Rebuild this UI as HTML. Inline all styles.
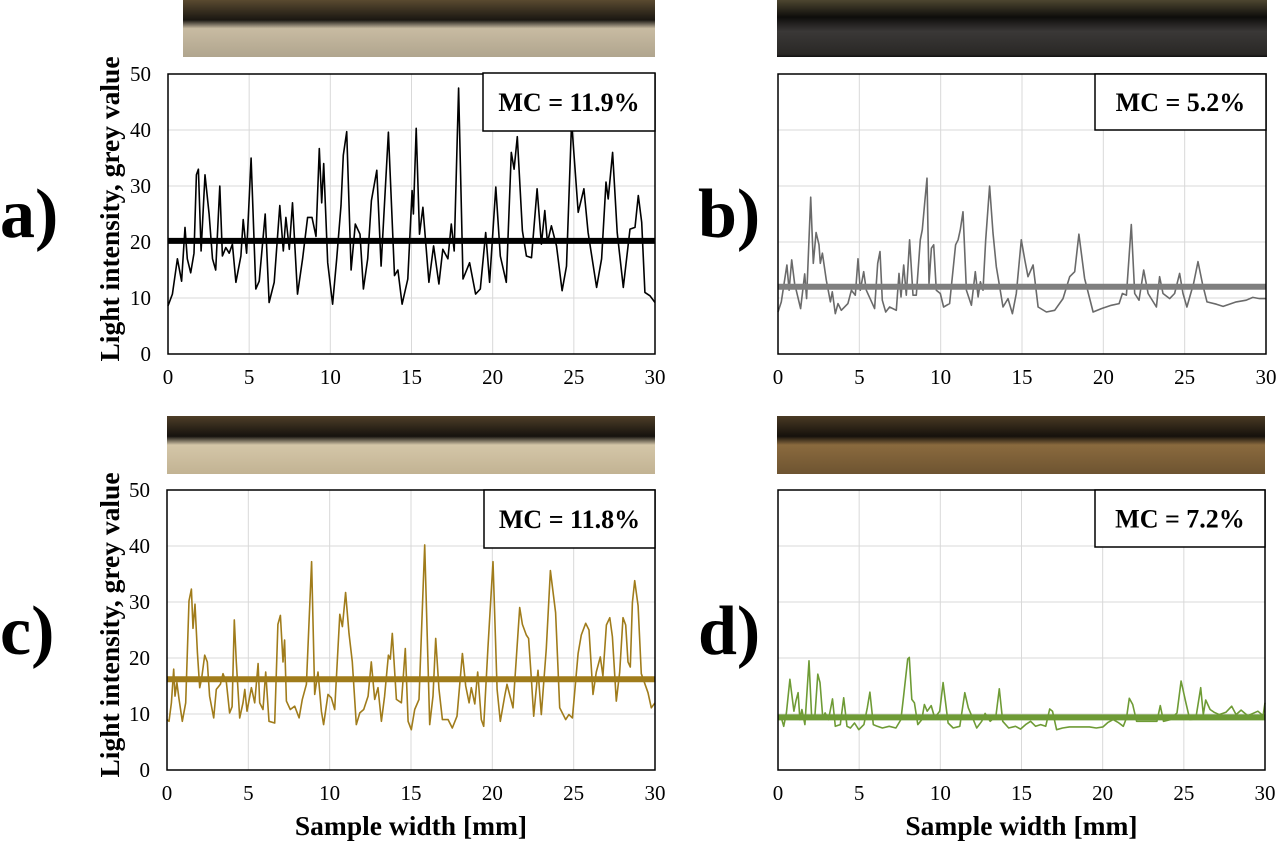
<!DOCTYPE html>
<html><head><meta charset="utf-8"><style>
body{margin:0;background:#fff;width:1280px;height:843px;overflow:hidden;font-family:"Liberation Serif",serif}
svg{display:block}
</style></head><body>
<svg id="fig" width="1280" height="843" viewBox="0 0 1280 843">
<defs>
<linearGradient id="woodA" x1="0" x2="0" y1="0" y2="1"><stop offset="0" stop-color="#5a4a30"/><stop offset="0.35" stop-color="#1a1712"/><stop offset="0.5" stop-color="#c8bba2"/><stop offset="1" stop-color="#b0a58e"/></linearGradient>
<linearGradient id="woodB" x1="0" x2="0" y1="0" y2="1"><stop offset="0" stop-color="#4d4630"/><stop offset="0.3" stop-color="#0e0d0b"/><stop offset="0.55" stop-color="#3a3837"/><stop offset="0.95" stop-color="#2a2826"/><stop offset="1" stop-color="#101010"/></linearGradient>
<linearGradient id="woodC" x1="0" x2="0" y1="0" y2="1"><stop offset="0" stop-color="#4e3e28"/><stop offset="0.35" stop-color="#15120e"/><stop offset="0.5" stop-color="#d4c6a8"/><stop offset="1" stop-color="#c2b393"/></linearGradient>
<linearGradient id="woodD" x1="0" x2="0" y1="0" y2="1"><stop offset="0" stop-color="#4a3a24"/><stop offset="0.35" stop-color="#15110c"/><stop offset="0.5" stop-color="#8a6a3e"/><stop offset="1" stop-color="#6e5431"/></linearGradient>
</defs>
</svg>
<script>
// ---- data ----
const xA=[0,0.27,0.58,0.84,1.05,1.19,1.4,1.6,1.75,1.87,2.04,2.28,2.53,2.74,2.94,3.19,3.35,3.56,3.77,3.97,4.18,4.49,4.63,4.84,5.12,5.41,5.62,5.99,6.23,6.54,6.89,7.1,7.26,7.47,7.67,7.98,8.29,8.6,8.87,9.12,9.32,9.47,9.59,9.84,10.14,10.39,10.66,10.8,11.01,11.28,11.54,11.83,12.04,12.3,12.53,12.86,13.13,13.58,13.95,14.16,14.42,14.77,15.04,15.12,15.29,15.49,15.7,16.07,16.36,16.69,16.93,17.24,17.45,17.63,17.9,18.17,18.58,18.95,19.24,19.57,19.81,20.19,20.47,20.84,21.15,21.32,21.52,21.83,22.08,22.39,22.74,23.0,23.21,23.37,23.62,23.93,24.28,24.55,24.86,25.27,25.62,25.88,26.4,26.71,26.98,27.12,27.39,27.67,28.05,28.46,28.77,28.97,29.18,29.38,29.69,30];
const yA=[8.6,10.7,17,13,22.6,17,14.5,18,32,33,18.4,32,25,17,15,30,17.5,19,18,19.6,12.8,17.5,24,18,35,11.6,13,25,9.2,12.8,26.5,18.4,24.4,18.7,27,10.7,17,24.4,24.4,21,36.7,27,34,16.3,8.9,17,26.5,35.5,39.7,15,23.2,21.4,11.6,17,27.4,32.8,15.7,39.6,14,15,8.9,13.4,29.2,25,40.3,21.4,26.2,12.8,19.3,12.5,18.7,17,23.2,18.4,47.5,13.4,16.3,10.7,11.6,21.7,12.8,29.8,17.5,12.8,36,33,38.8,22,17.5,17.2,29.5,19.6,25.6,19.9,22.9,19.3,11.3,15.7,41.5,25.3,29.5,21.7,11.9,17,30.7,27.7,36,21.7,11.9,22.3,22.6,28.3,23.5,11,10.4,9.2];
const meanA=20.2;
const xB=[0,0.2,0.55,0.68,0.84,1.02,1.39,1.64,1.76,2.01,2.17,2.34,2.52,2.6,2.73,2.97,3.22,3.34,3.52,3.69,3.89,4.3,4.51,4.75,4.92,5.06,5.27,5.43,5.94,6.13,6.27,6.41,6.62,6.86,7.27,7.44,7.56,7.73,7.89,8.09,8.3,8.5,8.75,8.87,9.02,9.16,9.28,9.43,9.57,9.73,9.98,10.18,10.55,10.92,11.07,11.21,11.37,11.58,11.89,12.13,12.3,12.44,12.6,12.77,13.01,13.22,13.42,13.59,13.83,14.14,14.41,14.65,14.96,15.17,15.37,15.68,15.99,16.5,17.01,17.52,17.93,18.24,18.5,18.85,19.37,19.88,20.49,20.97,21.17,21.42,21.72,21.93,22.19,22.48,22.75,23.26,23.46,23.67,24.08,24.38,24.69,24.9,25.14,25.55,25.82,26.09,26.37,26.95,27.36,28.17,28.78,29.19,29.6,30];
const yB=[7.5,9.3,15.9,11.4,16.8,12.6,8.1,14.3,9.9,28,16.2,21.7,19.5,16.2,18,13.2,9.3,11.1,7.2,9,7.8,9,11.4,10.5,17,11.4,14.7,11.4,8.1,16.2,18.3,9.6,7.5,8.4,7.8,14.4,10.2,15.9,10.5,20.4,10.5,10.5,20.4,22.2,27,31.4,12.6,18.9,19.5,11.4,10.8,8.4,9,19.5,20.4,22.2,25.4,11.4,8.7,14.7,10.2,12.9,11.4,20.4,30,21.6,15.6,12.6,8.4,9.9,7.2,10.8,20.4,16.8,13.8,15.9,8.4,7.5,7.8,9.9,13.8,14.7,21.4,13.5,7.5,8.1,8.7,9,10.8,10.5,23.1,10.8,9.6,15,10.8,8.4,13.8,10.8,9.9,10.8,14.4,10.8,8.4,12.6,16.5,12.6,9.3,8.9,8.5,9.3,9.6,10.1,9.9,9.9];
const meanB=12.0;
const xC=[0,0.12,0.27,0.41,0.49,0.61,0.74,0.94,1.15,1.35,1.5,1.6,1.72,1.87,2.01,2.13,2.32,2.48,2.62,2.87,3.03,3.28,3.44,3.65,3.85,4.0,4.14,4.26,4.47,4.67,4.78,4.92,5.19,5.39,5.6,5.7,5.9,6.07,6.27,6.62,6.82,6.97,7.13,7.23,7.34,7.58,7.85,8.12,8.32,8.57,8.89,9.08,9.28,9.49,9.63,9.9,10.1,10.31,10.62,10.78,10.98,11.19,11.39,11.64,11.85,12.09,12.36,12.56,12.77,12.97,13.18,13.38,13.61,13.73,13.85,14.1,14.41,14.65,14.82,15.02,15.23,15.49,15.84,16.15,16.35,16.52,16.72,16.93,17.28,17.54,17.83,18.16,18.36,18.57,18.71,18.92,19.1,19.32,19.47,19.73,20.04,20.29,20.49,20.76,20.9,21.27,21.68,21.85,22.09,22.23,22.4,22.54,22.81,23.01,23.32,23.57,23.89,24.14,24.51,24.71,24.92,25.27,25.47,25.74,25.94,26.19,26.39,26.64,26.8,27.01,27.22,27.38,27.62,27.83,28.03,28.2,28.34,28.48,28.61,28.75,28.96,29.16,29.57,29.77,30];
const yC=[9,8.7,12,18,13.2,15.6,12.7,8.7,12,30.2,32.3,25.3,29.6,21,14.7,16.3,20.5,19.3,13.2,9.3,14.4,15.3,17.2,15.6,10.2,11.3,26.8,19.3,9.3,12,14.4,10.5,14.7,12,19,12,10.8,17.5,8.7,8.4,26,27.6,19.3,23.2,12.3,10.8,11.4,9.3,12.6,15.3,37.2,13.5,17.5,10.5,8.1,13.5,12.9,10.8,27.8,25.6,31.7,24.4,19.3,8.1,10.2,10.8,13.2,19.3,12.6,14.7,8.7,13.2,20.5,19.8,24.4,12.6,12,21.7,8.7,7.2,10.8,12.6,40.2,8.1,13.2,23.5,14.4,9,9,7.5,9.6,20.8,15,12,14.7,11.8,17.5,9,7.8,21.7,37.2,14.4,8.7,13.2,15.3,11.1,29,26,24.1,23.5,16.2,9.6,17.8,9.9,21.7,35.6,28.1,11.1,9,9.9,9.3,20.8,24.1,26.2,25,13.5,17.5,20.2,16.8,25.9,27.2,23.8,12.3,17.5,27.2,25.9,19.3,18.4,29.9,33.8,29.3,17.2,13.8,11.1,12];
const meanC=16.2;
const xD=[0,0.21,0.35,0.52,0.73,0.98,1.1,1.24,1.35,1.47,1.66,1.91,2.07,2.28,2.45,2.59,2.76,2.9,3.11,3.36,3.53,3.84,4.05,4.25,4.46,4.71,4.98,5.29,5.5,5.66,5.87,6.12,6.43,6.85,7.26,7.57,7.74,7.99,8.09,8.24,8.4,8.61,8.86,9.02,9.19,9.44,9.65,9.96,10.17,10.48,10.79,11.2,11.51,11.72,12.03,12.24,12.55,12.76,13.07,13.42,13.63,13.84,14.21,14.63,14.94,15.25,15.56,15.87,16.18,16.49,16.74,16.91,17.16,17.53,17.95,18.36,18.78,19.19,19.61,20.02,20.33,20.64,20.95,21.27,21.47,21.64,21.85,22.09,22.51,22.93,23.34,23.55,23.75,24.17,24.58,24.83,25.1,25.37,25.73,26.04,26.2,26.35,26.62,26.87,27.18,27.59,27.95,28.22,28.53,28.94,29.56,29.88,30];
const yD=[9.6,9.3,7.8,10.2,16.2,10.5,12.3,13.8,9,10.8,8.1,19.5,9.6,9.9,17.1,15.6,9.3,10.2,9,12.7,7.8,8.1,12.9,7.8,7.5,8.4,7.2,8.1,11.1,13.9,8.1,7.8,7.5,7.8,7.5,9,13.2,19.8,20.1,12.6,12,8.1,9,11.7,10.5,11.5,9.3,10.5,15.6,8.4,7.5,7.8,13.8,11.1,9,7.5,8.7,10.1,8.7,9.6,14.5,8.7,7.5,7.8,7.3,8.1,8.7,7.8,8.1,7.8,10.9,10.5,7.2,7.5,7.7,7.7,7.7,7.7,7.5,7.7,8.5,9,8.5,7.8,9.3,12.8,11.7,8.7,8.7,8.7,8.7,11.5,8.7,9,10.2,15.9,12.3,9,9.1,14.7,9.9,12.5,10.8,10.3,9.9,10.3,11.4,9.9,10.7,9.7,10.5,9.7,12];
const meanD=9.4;
const xTicks=[0,5,10,15,20,25,30];
const yTicks=[0,10,20,30,40,50];
const mcLabels=["MC = 11.9%","MC = 5.2%","MC = 11.8%","MC = 7.2%"];
const panelLetters=["a)","b)","c)","d)"];

const NS="http://www.w3.org/2000/svg";
const svg=document.getElementById('fig');
function mk(tag,attrs,parent){const e=document.createElementNS(NS,tag);for(const k in attrs)e.setAttribute(k,attrs[k]);(parent||svg).appendChild(e);return e;}

const panels=[
 {x0:168,x1:655,y0:354,y1:74,xs:xA,ys:yA,mean:meanA,col:"#000",mcol:"#000",yl:true,xt:false,photo:[183,0,472,57,"woodA"],box:[483,73,172,58],lx:0,ly:237},
 {x0:778,x1:1266,y0:354,y1:74,xs:xB,ys:yB,mean:meanB,col:"#6a6a6a",mcol:"#7f7f7f",yl:false,xt:false,photo:[777,0,490,57,"woodB"],box:[1095,74,171,56],lx:698,ly:237},
 {x0:167,x1:655,y0:770,y1:490,xs:xC,ys:yC,mean:meanC,col:"#a07c1b",mcol:"#a07c1b",yl:true,xt:true,photo:[167,416,488,58,"woodC"],box:[484,490,171,58],lx:0,ly:654},
 {x0:778,x1:1265,y0:770,y1:490,xs:xD,ys:yD,mean:meanD,col:"#6e9b35",mcol:"#6e9b35",yl:false,xt:true,photo:[777,416,488,58,"woodD"],box:[1095,490,170,57],lx:698,ly:654}
];

panels.forEach((p,i)=>{
  const g=mk('g',{});
  
  
  const sx=v=>p.x0+(p.x1-p.x0)*v/30;
  const sy=v=>p.y0+(p.y1-p.y0)*v/50;
  const ph=mk('rect',{x:p.photo[0],y:p.photo[1],width:p.photo[2],height:p.photo[3],fill:'url(#'+p.photo[4]+')'},g);
  
  
  xTicks.forEach(t=>{const l=mk('line',{x1:sx(t),x2:sx(t),y1:p.y0,y2:p.y1,stroke:'#d9d9d9','stroke-width':1},g);
    
    });
  yTicks.forEach(t=>{const l=mk('line',{x1:p.x0,x2:p.x1,y1:sy(t),y2:sy(t),stroke:'#d9d9d9','stroke-width':1},g);
    
    });
  let d='';p.xs.forEach((x,k)=>{d+=(k?'L':'M')+sx(x).toFixed(1)+','+sy(p.ys[k]).toFixed(1);});
  const ln=mk('path',{d:d,fill:'none',stroke:p.col,'stroke-width':1.6,'stroke-linejoin':'round'},g);
  
  
  const ml=mk('line',{x1:p.x0,x2:p.x1,y1:sy(p.mean),y2:sy(p.mean),stroke:p.mcol,'stroke-width':6},g);
  
  
  const fr=mk('rect',{x:p.x0,y:p.y1,width:p.x1-p.x0,height:p.y0-p.y1,fill:'none',stroke:'#000','stroke-width':1.5},g);
  
  
  const bx=mk('rect',{x:p.box[0],y:p.box[1],width:p.box[2],height:p.box[3],fill:'#fff',stroke:'#000','stroke-width':1.5},g);
  
  
  const bt=mk('text',{x:p.box[0]+p.box[2]/2,y:p.box[1]+p.box[3]/2+9,'text-anchor':'middle','font-size':26,'font-weight':'bold','font-family':'Liberation Serif, serif'},g);
  bt.textContent=mcLabels[i];
  
  
  xTicks.forEach(t=>{const tx=mk('text',{x:sx(t),y:p.y0+30,'text-anchor':'middle','font-size':21,'font-family':'Liberation Serif, serif'},g);
    tx.textContent=t;
    
    });
  if(p.yl){
    yTicks.forEach(t=>{const ty=mk('text',{x:p.x0-17,y:sy(t)+7,'text-anchor':'end','font-size':21,'font-family':'Liberation Serif, serif'},g);
      ty.textContent=t;
      
      });
    const yt=mk('text',{x:0,y:0,transform:'translate(119,'+((p.y0+p.y1)/2-5)+') rotate(-90)','text-anchor':'middle','font-size':27.5,'font-weight':'bold','font-family':'Liberation Serif, serif'},g);
    yt.textContent='Light intensity, grey value';
    
    
  }
  if(p.xt){
    const xt=mk('text',{x:(p.x0+p.x1)/2,y:p.y0+65,'text-anchor':'middle','font-size':27.5,'font-weight':'bold','font-family':'Liberation Serif, serif'},g);
    xt.textContent='Sample width [mm]';
    
    
  }
  const pl=mk('text',{x:p.lx,y:p.ly,'font-size':70,'font-weight':'bold','font-family':'Liberation Serif, serif'},g);
  pl.textContent=panelLetters[i];
  
  
});
</script>
</body></html>
